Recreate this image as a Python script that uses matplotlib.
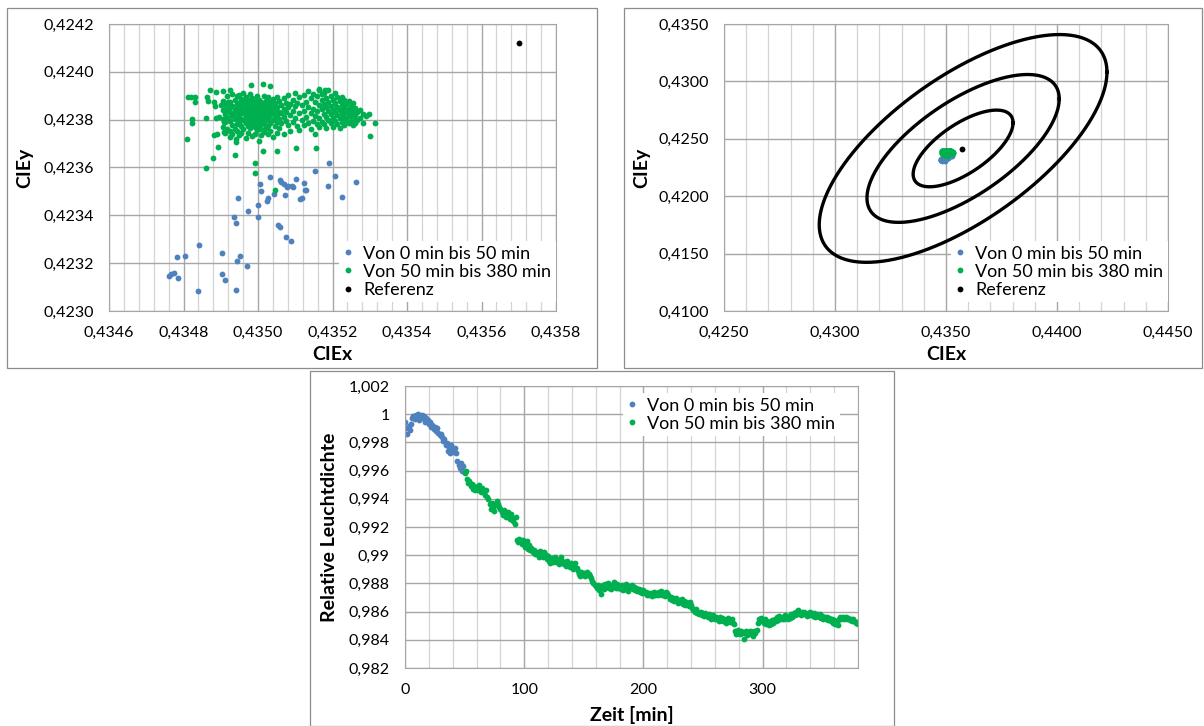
import numpy as np
import matplotlib
matplotlib.use('Agg')
import matplotlib.pyplot as plt
from matplotlib.patches import Rectangle
from matplotlib.ticker import MultipleLocator, FuncFormatter

plt.rcParams['font.family'] = ['Lato', 'DejaVu Sans']

BLUE = '#4f81bd'
GREEN = '#00b050'
GRID_MAJ = '#a6a6a6'
GRID_MIN = '#d4d4d4'
FRAME = '#8c8c8c'

lab_blue = 'Von 0 min bis 50 min'
lab_green = 'Von 50 min bis 380 min'
lab_ref = 'Referenz'

# reference white point (CIE x, y)
ref_x = 0.4357
ref_y = 0.42412

# colour points 0..50 min (CIEx, CIEy)
blue_pts = [
    (0.434760, 0.423148), (0.434767, 0.423156), (0.434774, 0.423159), (0.434785, 0.423140),
    (0.434782, 0.423226), (0.434804, 0.423232), (0.434842, 0.423278), (0.434839, 0.423082),
    (0.434904, 0.423244), (0.434904, 0.423156), (0.434911, 0.423128), (0.434940, 0.423087),
    (0.434943, 0.423208), (0.434953, 0.423230), (0.434970, 0.423190), (0.434935, 0.423392),
    (0.434940, 0.423366), (0.434947, 0.423474), (0.434973, 0.423419), (0.434999, 0.423444),
    (0.435001, 0.423392), (0.435006, 0.423532), (0.435009, 0.423502), (0.435023, 0.423458),
    (0.435026, 0.423472), (0.435033, 0.423562), (0.435042, 0.423490), (0.435054, 0.423360),
    (0.435058, 0.423350), (0.435059, 0.423547), (0.435063, 0.423540), (0.435071, 0.423532),
    (0.435073, 0.423484), (0.435077, 0.423519), (0.435081, 0.423522), (0.435089, 0.423292),
    (0.435074, 0.423310), (0.435103, 0.423554), (0.435092, 0.423522), (0.435095, 0.423519),
    (0.435114, 0.423467), (0.435119, 0.423472), (0.435123, 0.423534), (0.435125, 0.423504),
    (0.435130, 0.423504), (0.435152, 0.423586), (0.435187, 0.423522), (0.435190, 0.423618),
    (0.435208, 0.423564), (0.435226, 0.423476), (0.435262, 0.423540),
]

# colour points 50..380 min (CIEx, CIEy)
green_pts = [
    (0.434811, 0.423896), (0.434820, 0.423896), (0.434832, 0.423896), (0.434832, 0.423875),
    (0.434872, 0.423924), (0.434887, 0.423914), (0.434905, 0.423920), (0.434925, 0.423924),
    (0.434863, 0.423896), (0.434865, 0.423877), (0.434883, 0.423875), (0.434885, 0.423858),
    (0.434901, 0.423861), (0.434919, 0.423875), (0.434824, 0.423804), (0.434823, 0.423787),
    (0.434860, 0.423807), (0.434887, 0.423807), (0.434895, 0.423811), (0.434910, 0.423790),
    (0.434883, 0.423734), (0.434889, 0.423741), (0.434910, 0.423748), (0.434925, 0.423751),
    (0.434940, 0.423720), (0.434940, 0.423708), (0.434892, 0.423685), (0.434880, 0.423640),
    (0.434938, 0.423652), (0.434860, 0.423597), (0.434809, 0.423720),
    (0.434980, 0.423945), (0.434991, 0.423619), (0.434991, 0.423577), (0.435013, 0.423950),
    (0.435031, 0.423940), (0.435013, 0.423670), (0.435051, 0.423668), (0.435045, 0.423508),
    (0.435101, 0.423680), (0.435157, 0.423680), (0.435164, 0.423930), (0.435180, 0.423925),
    (0.435301, 0.423730), (0.435313, 0.423785), (0.435298, 0.423822),
    (0.434905, 0.423842), (0.434905, 0.423803), (0.434905, 0.423771), (0.434905, 0.423880),
    (0.434912, 0.423861), (0.434912, 0.423825), (0.434912, 0.423789), (0.434912, 0.423746),
    (0.434918, 0.423898), (0.434918, 0.423840), (0.434918, 0.423812), (0.434918, 0.423760),
    (0.434924, 0.423873), (0.434924, 0.423832), (0.434924, 0.423795), (0.434924, 0.423728),
    (0.434924, 0.423851), (0.434931, 0.423909), (0.434931, 0.423858), (0.434931, 0.423817),
    (0.434931, 0.423779), (0.434931, 0.423742), (0.434937, 0.423884), (0.434937, 0.423846),
    (0.434937, 0.423826), (0.434937, 0.423801), (0.434937, 0.423763), (0.434943, 0.423866),
    (0.434943, 0.423838), (0.434943, 0.423809), (0.434943, 0.423781), (0.434943, 0.423752),
    (0.434943, 0.423897), (0.434949, 0.423902), (0.434949, 0.423871), (0.434949, 0.423849),
    (0.434949, 0.423818), (0.434949, 0.423790), (0.434949, 0.423735), (0.434955, 0.423887),
    (0.434955, 0.423856), (0.434955, 0.423832), (0.434955, 0.423804), (0.434955, 0.423772),
    (0.434955, 0.423743), (0.434961, 0.423878), (0.434961, 0.423851), (0.434961, 0.423827),
    (0.434961, 0.423798), (0.434961, 0.423761), (0.434961, 0.423912), (0.434967, 0.423893),
    (0.434967, 0.423864), (0.434967, 0.423840), (0.434967, 0.423815), (0.434967, 0.423786),
    (0.434967, 0.423722), (0.434973, 0.423881), (0.434973, 0.423858), (0.434973, 0.423833),
    (0.434973, 0.423807), (0.434973, 0.423775), (0.434973, 0.423744), (0.434979, 0.423907),
    (0.434979, 0.423872), (0.434979, 0.423847), (0.434979, 0.423822), (0.434979, 0.423794),
    (0.434979, 0.423766), (0.434985, 0.423889), (0.434985, 0.423862), (0.434985, 0.423838),
    (0.434985, 0.423812), (0.434985, 0.423781), (0.434985, 0.423731), (0.434991, 0.423876),
    (0.434991, 0.423851), (0.434991, 0.423826), (0.434991, 0.423799), (0.434991, 0.423770),
    (0.434991, 0.423742), (0.434997, 0.423898), (0.434997, 0.423868), (0.434997, 0.423843),
    (0.434997, 0.423817), (0.434997, 0.423788), (0.434997, 0.423756), (0.435003, 0.423884),
    (0.435003, 0.423859), (0.435003, 0.423832), (0.435003, 0.423806), (0.435003, 0.423777),
    (0.435003, 0.423712), (0.435009, 0.423872), (0.435009, 0.423847), (0.435009, 0.423821),
    (0.435009, 0.423795), (0.435009, 0.423763), (0.435009, 0.423735), (0.435015, 0.423901),
    (0.435015, 0.423866), (0.435015, 0.423838), (0.435015, 0.423811), (0.435015, 0.423782),
    (0.435015, 0.423748), (0.435021, 0.423880), (0.435021, 0.423853), (0.435021, 0.423827),
    (0.435021, 0.423799), (0.435021, 0.423767), (0.435027, 0.423893), (0.435027, 0.423862),
    (0.435027, 0.423836), (0.435027, 0.423808), (0.435027, 0.423772), (0.435027, 0.423741),
    (0.435033, 0.423875), (0.435033, 0.423845), (0.435033, 0.423818), (0.435033, 0.423786),
    (0.435033, 0.423752), (0.435039, 0.423886), (0.435039, 0.423857), (0.435039, 0.423829),
    (0.435039, 0.423797), (0.435039, 0.423726), (0.435045, 0.423869), (0.435045, 0.423838),
    (0.435045, 0.423809), (0.435045, 0.423775), (0.435051, 0.423895), (0.435051, 0.423851),
    (0.435051, 0.423821), (0.435051, 0.423789), (0.435051, 0.423744), (0.435057, 0.423877),
    (0.435057, 0.423833), (0.435057, 0.423801), (0.435057, 0.423764), (0.435063, 0.423862),
    (0.435063, 0.423826), (0.435063, 0.423786), (0.435069, 0.423889), (0.435069, 0.423845),
    (0.435069, 0.423812), (0.435069, 0.423738), (0.435075, 0.423871), (0.435075, 0.423830),
    (0.435075, 0.423795), (0.435081, 0.423902), (0.435081, 0.423852), (0.435081, 0.423779),
    (0.435087, 0.423866), (0.435087, 0.423818), (0.435087, 0.423751), (0.435093, 0.423884),
    (0.435093, 0.423838), (0.435093, 0.423790), (0.435099, 0.423912), (0.435099, 0.423856),
    (0.435099, 0.423805), (0.435105, 0.423871), (0.435105, 0.423773), (0.435111, 0.423893),
    (0.435111, 0.423828), (0.435111, 0.423756), (0.435117, 0.423862), (0.435117, 0.423798),
    (0.435123, 0.423905), (0.435123, 0.423837), (0.435123, 0.423776), (0.435129, 0.423874),
    (0.435129, 0.423812), (0.435135, 0.423921), (0.435135, 0.423853), (0.435135, 0.423788),
    (0.435141, 0.423889), (0.435141, 0.423828), (0.435141, 0.423762), (0.435147, 0.423908),
    (0.435147, 0.423846), (0.435147, 0.423796),
    (0.435153, 0.423872), (0.435153, 0.423816), (0.435153, 0.423741), (0.435159, 0.423897),
    (0.435159, 0.423838), (0.435159, 0.423783), (0.435165, 0.423926), (0.435165, 0.423861),
    (0.435165, 0.423808), (0.435165, 0.423769), (0.435171, 0.423882), (0.435171, 0.423844),
    (0.435171, 0.423791), (0.435171, 0.423908), (0.435177, 0.423912), (0.435177, 0.423866),
    (0.435177, 0.423822), (0.435177, 0.423781), (0.435183, 0.423889), (0.435183, 0.423851),
    (0.435183, 0.423812), (0.435183, 0.423764), (0.435189, 0.423874), (0.435189, 0.423836),
    (0.435189, 0.423798), (0.435189, 0.423923), (0.435195, 0.423901), (0.435195, 0.423859),
    (0.435195, 0.423823), (0.435195, 0.423786), (0.435201, 0.423882), (0.435201, 0.423846),
    (0.435201, 0.423808), (0.435201, 0.423771), (0.435207, 0.423868), (0.435207, 0.423831),
    (0.435207, 0.423796), (0.435207, 0.423912), (0.435213, 0.423893), (0.435213, 0.423854),
    (0.435213, 0.423819), (0.435213, 0.423782), (0.435219, 0.423876), (0.435219, 0.423841),
    (0.435219, 0.423805), (0.435219, 0.423767), (0.435225, 0.423862), (0.435225, 0.423826),
    (0.435225, 0.423791), (0.435225, 0.423895), (0.435231, 0.423881), (0.435231, 0.423848),
    (0.435231, 0.423812), (0.435231, 0.423776), (0.435237, 0.423866), (0.435237, 0.423833),
    (0.435237, 0.423798), (0.435243, 0.423879), (0.435243, 0.423845), (0.435243, 0.423814),
    (0.435243, 0.423784), (0.435249, 0.423858), (0.435249, 0.423826), (0.435249, 0.423793),
    (0.435255, 0.423871), (0.435255, 0.423838), (0.435255, 0.423806), (0.435255, 0.423777),
    (0.435261, 0.423849), (0.435261, 0.423818), (0.435261, 0.423787), (0.435267, 0.423832),
    (0.435267, 0.423797), (0.435273, 0.423841), (0.435273, 0.423808), (0.435281, 0.423822),
    (0.435281, 0.423786), (0.435290, 0.423815),
]

# MacAdam-type ellipses around the reference (half width, half height, tilt correlation)
ell_cx = 0.43577
ell_cy = 0.42416
ell_hx = [0.00225, 0.00433, 0.00648]
ell_hy = [0.00334, 0.00644, 0.00992]
ell_rho = 0.67

# relative luminance, one value per minute
lum_blue = [
    0.99942, 0.99905, 0.99862, 0.99915, 0.99888, 0.99932, 0.99975, 0.99990, 0.99968, 0.99995,
    0.99982, 1.00000, 0.99960, 0.99985, 0.99992, 0.99970, 0.99988, 0.99945, 0.99975, 0.99960,
    0.99930, 0.99948, 0.99910, 0.99925, 0.99895, 0.99912, 0.99880, 0.99900, 0.99865, 0.99850,
    0.99862, 0.99835, 0.99810, 0.99825, 0.99780, 0.99795, 0.99740, 0.99765, 0.99728, 0.99780,
    0.99752, 0.99730, 0.99762, 0.99725, 0.99665, 0.99640, 0.99618, 0.99655, 0.99600, 0.99630,
]
lum_green = [
    0.99585, 0.99600, 0.99540, 0.99510, 0.99525, 0.99492, 0.99505, 0.99470, 0.99488, 0.99460,
    0.99482, 0.99465, 0.99495, 0.99470, 0.99445, 0.99478, 0.99455, 0.99425, 0.99460, 0.99415,
    0.99400, 0.99360, 0.99330, 0.99372, 0.99340, 0.99310, 0.99355, 0.99385, 0.99362, 0.99340,
    0.99325, 0.99305, 0.99282, 0.99318, 0.99295, 0.99270, 0.99305, 0.99285, 0.99260, 0.99295,
    0.99262, 0.99240, 0.99220, 0.99268, 0.99110, 0.99095, 0.99118, 0.99102, 0.99080, 0.99110,
    0.99085, 0.99060, 0.99098, 0.99045, 0.99070, 0.99035, 0.99050, 0.99020, 0.99040, 0.99005,
    0.99025, 0.99010, 0.98985, 0.99030, 0.99005, 0.99015, 0.98990, 0.99020, 0.99000, 0.98975,
    0.98995, 0.98960, 0.98945, 0.98980, 0.98955, 0.98970, 0.98985, 0.98950, 0.98965, 0.98940,
    0.98975, 0.98990, 0.98960, 0.98935, 0.98950, 0.98925, 0.98960, 0.98940, 0.98915, 0.98945,
    0.98930, 0.98900, 0.98925, 0.98945, 0.98910, 0.98890, 0.98870, 0.98850, 0.98880, 0.98860,
    0.98875, 0.98855, 0.98865, 0.98880, 0.98870, 0.98850, 0.98835, 0.98815, 0.98800, 0.98790,
    0.98780, 0.98765, 0.98790, 0.98750, 0.98725, 0.98770, 0.98790, 0.98760, 0.98795, 0.98775,
    0.98800, 0.98770, 0.98785, 0.98760, 0.98790, 0.98810, 0.98780, 0.98765, 0.98795, 0.98770,
    0.98780, 0.98760, 0.98790, 0.98750, 0.98775, 0.98795, 0.98765, 0.98745, 0.98780, 0.98770,
    0.98790, 0.98760, 0.98775, 0.98755, 0.98770, 0.98745, 0.98760, 0.98740, 0.98755, 0.98735,
    0.98750, 0.98730, 0.98740, 0.98720, 0.98735, 0.98715, 0.98730, 0.98710, 0.98725, 0.98740,
    0.98720, 0.98735, 0.98715, 0.98740, 0.98725, 0.98745, 0.98720, 0.98735, 0.98710, 0.98740,
    0.98730, 0.98715, 0.98690, 0.98705, 0.98680, 0.98700, 0.98675, 0.98695, 0.98680, 0.98660,
    0.98685, 0.98670, 0.98690, 0.98655, 0.98675, 0.98650, 0.98670, 0.98660, 0.98640, 0.98665,
    0.98650, 0.98625, 0.98610, 0.98600, 0.98615, 0.98590, 0.98600, 0.98580, 0.98595, 0.98575,
    0.98585, 0.98570, 0.98590, 0.98575, 0.98560, 0.98580, 0.98565, 0.98550, 0.98575, 0.98560,
    0.98545, 0.98565, 0.98550, 0.98535, 0.98560, 0.98540, 0.98555, 0.98530, 0.98545, 0.98520,
    0.98540, 0.98555, 0.98530, 0.98525, 0.98545, 0.98520, 0.98510, 0.98460, 0.98440, 0.98470,
    0.98455, 0.98440, 0.98465, 0.98450, 0.98405, 0.98445, 0.98460, 0.98435, 0.98450, 0.98465,
    0.98440, 0.98455, 0.98430, 0.98460, 0.98445, 0.98470, 0.98520, 0.98545, 0.98530, 0.98555,
    0.98540, 0.98520, 0.98550, 0.98510, 0.98535, 0.98505, 0.98525, 0.98510, 0.98540, 0.98520,
    0.98545, 0.98530, 0.98560, 0.98540, 0.98570, 0.98555, 0.98545, 0.98565, 0.98550, 0.98575,
    0.98560, 0.98545, 0.98570, 0.98555, 0.98580, 0.98560, 0.98590, 0.98575, 0.98600, 0.98585,
    0.98610, 0.98590, 0.98575, 0.98595, 0.98580, 0.98600, 0.98585, 0.98570, 0.98590, 0.98575,
    0.98595, 0.98580, 0.98570, 0.98590, 0.98560, 0.98575, 0.98585, 0.98565, 0.98580, 0.98555,
    0.98570, 0.98550, 0.98565, 0.98545, 0.98560, 0.98540, 0.98555, 0.98530, 0.98545, 0.98520,
    0.98540, 0.98510, 0.98525, 0.98505, 0.98550, 0.98560, 0.98545, 0.98565, 0.98550, 0.98555,
    0.98560, 0.98545, 0.98555, 0.98540, 0.98550, 0.98535, 0.98545, 0.98530, 0.98520, 0.98525,
    0.98515,
]
t_blue = np.arange(0, len(lum_blue))
t_green = np.arange(len(lum_blue), len(lum_blue) + len(lum_green))

blue_x, blue_y = zip(*blue_pts)
green_x, green_y = zip(*green_pts)

W, H = 1204, 726
fig = plt.figure(figsize=(W / 100, H / 100), dpi=100)


def px_box(l, t, r, b):
    return [l / W, 1 - b / H, (r - l) / W, (b - t) / H]


# chart frames like the Excel chart areas
for l, t, r, b in [(7, 8, 597, 368), (624, 8, 1202, 368), (310, 371, 894, 726)]:
    fig.add_artist(Rectangle((l / W, 1 - b / H), (r - l) / W, (b - t) / H,
                             transform=fig.transFigure, fill=False, ec=FRAME, lw=0.9))


def style(ax, xmaj, xmin_, ymaj):
    ax.xaxis.set_major_locator(MultipleLocator(xmaj))
    ax.xaxis.set_minor_locator(MultipleLocator(xmin_))
    ax.yaxis.set_major_locator(MultipleLocator(ymaj))
    ax.grid(which='major', color=GRID_MAJ, lw=1.0)
    ax.grid(which='minor', axis='x', color=GRID_MIN, lw=0.9)
    ax.set_axisbelow(True)
    ax.tick_params(which='both', length=0, pad=11, labelsize=11.5)
    for s in ax.spines.values():
        s.set_color(GRID_MAJ)


def comma(fmt):
    return FuncFormatter(lambda v, p: fmt.format(v).replace('.', ','))


def general(v, p):
    s = '{:.3f}'.format(v).rstrip('0').rstrip('.')
    return s.replace('.', ',')


leg_kw = dict(frameon=True, fancybox=False, edgecolor='none', facecolor='white',
              framealpha=1, handlelength=0.5, handletextpad=0.6, borderpad=0.25,
              labelspacing=0.12, fontsize=13, borderaxespad=0, numpoints=1)
MS = 4.2

# --- top left: zoomed CIE scatter
ax1 = fig.add_axes(px_box(109, 24, 556, 311))
ax1.plot(blue_x, blue_y, 'o', ms=MS, color=BLUE, mec='none', label=lab_blue)
ax1.plot(green_x, green_y, 'o', ms=MS, color=GREEN, mec='none', label=lab_green)
ax1.plot([ref_x], [ref_y], 'o', ms=MS, color='black', mec='none', label=lab_ref)
ax1.set_xlim(0.4346, 0.4358)
ax1.set_ylim(0.4230, 0.4242)
style(ax1, 0.0002, 0.00004, 0.0002)
ax1.xaxis.set_major_formatter(comma('{:.4f}'))
ax1.yaxis.set_major_formatter(comma('{:.4f}'))
ax1.set_xlabel('CIEx', fontsize=14, fontweight='bold', va='center')
ax1.set_ylabel('CIEy', fontsize=14, fontweight='bold', va='center')
ax1.xaxis.set_label_coords(0.5, -0.15)
ax1.yaxis.set_label_coords(-0.188, 0.5)
ax1.legend(loc='lower right', bbox_to_anchor=(1.0, 0.03), **leg_kw)

# --- top right: with ellipses
ax2 = fig.add_axes(px_box(724, 24, 1168, 311))
tt = np.linspace(0, 2 * np.pi, 500)
for hx, hy in zip(ell_hx, ell_hy):
    ex = ell_cx + hx * np.cos(tt)
    ey = ell_cy + hy * (ell_rho * np.cos(tt) + np.sqrt(1 - ell_rho ** 2) * np.sin(tt))
    ax2.plot(ex, ey, color='black', lw=2.4)
ax2.plot(blue_x, blue_y, 'o', ms=MS, color=BLUE, mec='none', label=lab_blue)
ax2.plot(green_x, green_y, 'o', ms=MS, color=GREEN, mec='none', label=lab_green)
ax2.plot([ref_x], [ref_y], 'o', ms=MS, color='black', mec='none', label=lab_ref)
ax2.set_xlim(0.4250, 0.4450)
ax2.set_ylim(0.4100, 0.4350)
style(ax2, 0.005, 0.001, 0.005)
ax2.xaxis.set_major_formatter(comma('{:.4f}'))
ax2.yaxis.set_major_formatter(comma('{:.4f}'))
ax2.set_xlabel('CIEx', fontsize=14, fontweight='bold', va='center')
ax2.set_ylabel('CIEy', fontsize=14, fontweight='bold', va='center')
ax2.xaxis.set_label_coords(0.5, -0.15)
ax2.yaxis.set_label_coords(-0.185, 0.5)
h, l = ax2.get_legend_handles_labels()
ax2.legend(h[-3:], l[-3:], loc='lower right', bbox_to_anchor=(1.0, 0.03), **leg_kw)

# --- bottom: relative luminance over time
ax3 = fig.add_axes(px_box(405, 386, 858, 668))
ax3.plot(t_blue, lum_blue, 'o', ms=MS, color=BLUE, mec='none', label=lab_blue)
ax3.plot(t_green, lum_green, 'o', ms=MS, color=GREEN, mec='none', label=lab_green)
ax3.set_xlim(0, 380)
ax3.set_ylim(0.982, 1.002)
style(ax3, 100, 20, 0.002)
ax3.yaxis.set_major_formatter(FuncFormatter(general))
ax3.set_xlabel('Zeit [min]', fontsize=14, fontweight='bold', va='center')
ax3.set_ylabel('Relative Leuchtdichte', fontsize=14, fontweight='bold', va='center')
ax3.xaxis.set_label_coords(0.5, -0.167)
ax3.yaxis.set_label_coords(-0.166, 0.5)
leg3 = ax3.legend(loc='upper right', bbox_to_anchor=(0.96, 0.975), **leg_kw)

fig.savefig('out.png', dpi=100, facecolor='white')
